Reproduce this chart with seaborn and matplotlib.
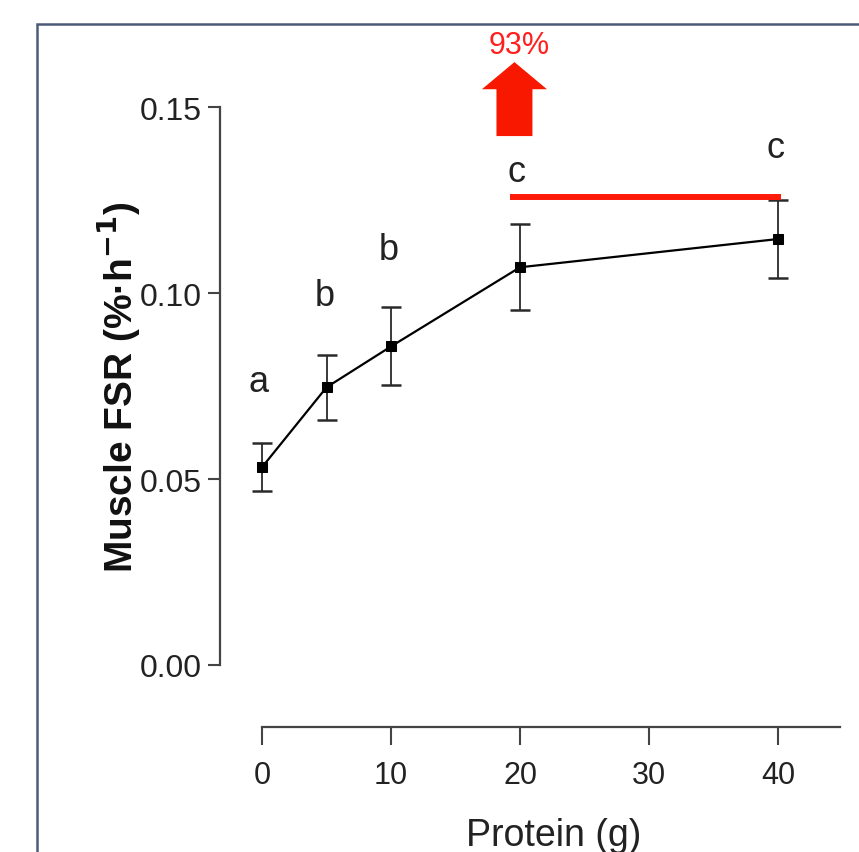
import matplotlib
matplotlib.use("Agg")
import matplotlib.pyplot as plt
import matplotlib.patches as mpatches
import seaborn as sns
import pandas as pd

# ---- data ----
protein_g = [0, 5, 10, 20, 40]
fsr_mean = [0.0532, 0.0747, 0.0857, 0.1070, 0.1146]
fsr_sem = [0.0065, 0.0087, 0.0105, 0.0116, 0.0106]
sig_letters = ["a", "b", "b", "c", "c"]
letter_x = [-0.3, 4.9, 9.8, 19.7, 39.8]
letter_y = [0.0764, 0.0993, 0.1119, 0.1329, 0.1391]
plateau_x = [19.2, 40.2]
plateau_y = [0.1258, 0.1258]
arrow_x = 19.57
arrow_base, arrow_tip = 0.1423, 0.1622
arrow_label = "93%"
xticks = [0, 10, 20, 30, 40]
yticks = [0.00, 0.05, 0.10, 0.15]
ytick_labels = ["0.00", "0.05", "0.10", "0.15"]

df = pd.DataFrame({"Protein (g)": protein_g, "FSR": fsr_mean})

sns.set_theme(style="white")
FONT = ["Liberation Sans", "DejaVu Sans"]
plt.rcParams["font.family"] = FONT

W, H = 859, 853
fig = plt.figure(figsize=(W / 100, H / 100), dpi=100)

# layout (pixel-based)
x0_px, xscale = 262.0, 12.9      # data x=0 at 262 px, 12.9 px per gram
y0_px, yscale = 666.0, 3717.0    # data y=0 at 666 px
left_px, bottom_px = 220.0, 728.0
xlim = ((left_px - x0_px) / xscale, 45.5)
ylim = ((y0_px - bottom_px) / yscale, 0.172)
right_px = x0_px + xlim[1] * xscale
top_px = y0_px - ylim[1] * yscale
ax = fig.add_axes([left_px / W, 1 - bottom_px / H,
                   (right_px - left_px) / W, (bottom_px - top_px) / H])

sns.lineplot(data=df, x="Protein (g)", y="FSR", ax=ax, color="black",
             linewidth=1.6, marker="s", markersize=6.5, markeredgecolor="black",
             zorder=3)
ax.errorbar(protein_g, fsr_mean, yerr=fsr_sem, fmt="none", ecolor="#2a2a2a",
            elinewidth=1.3, capsize=7.5, capthick=1.8, zorder=2)

# significance letters
for lx, ly, t in zip(letter_x, letter_y, sig_letters):
    ax.text(lx, ly, t, ha="center", va="center", fontsize=26, color="#222222")

# red plateau line
ax.plot(plateau_x, plateau_y, color="#ff1a0a", linewidth=4.3,
        solid_capstyle="butt", zorder=4, clip_on=False)

# red arrow
ax.add_patch(mpatches.FancyArrow(arrow_x, arrow_base, 0, arrow_tip - arrow_base,
                                 width=2.79, head_width=5.04, head_length=0.0073,
                                 length_includes_head=True, color="#f81800",
                                 linewidth=0, clip_on=False))
ax.text(arrow_x + 0.4, 0.1668, arrow_label, ha="center", va="center",
        fontsize=22, color="#ff1f1f")

ax.set_xlim(*xlim)
ax.set_ylim(*ylim)
ax.set_xticks(xticks)
ax.set_yticks(yticks)
ax.set_yticklabels(ytick_labels)

for s in ["top", "right"]:
    ax.spines[s].set_visible(False)
ax.spines["left"].set_bounds(0, 0.15)
ax.spines["bottom"].set_bounds(0, 44.8)
for s in ["left", "bottom"]:
    ax.spines[s].set_color("#444444")
    ax.spines[s].set_linewidth(1.6)

ax.tick_params(axis="x", direction="out", length=13, width=1.5, color="#444444",
               pad=11, labelsize=22, labelcolor="#222222", bottom=True)
ax.tick_params(axis="y", direction="out", length=8.5, width=1.5, color="#444444",
               pad=5, labelsize=23, labelcolor="#222222", left=True)

ax.set_ylabel("Muscle FSR (%·h$^{\\mathbf{-1}}$)", fontsize=28, fontweight="bold",
              color="#111111")
ax.yaxis.label.set_va("center")
ax.yaxis.set_label_coords((118 - left_px) / (right_px - left_px),
                          1 - (387 - top_px) / (bottom_px - top_px))
ax.set_xlabel("Protein (g)", fontsize=27, color="#222222")
ax.xaxis.label.set_va("top")
ax.xaxis.set_label_coords((554 - left_px) / (right_px - left_px),
                          -(818 - bottom_px) / (bottom_px - top_px))

# figure frame
fig.patches.append(mpatches.Rectangle((36.5 / W, -0.1), 1.2, (H - 25) / H + 0.1,
                                      transform=fig.transFigure, fill=False,
                                      edgecolor="#4d5b7a", linewidth=1.8))

fig.savefig("out.png", dpi=100)
